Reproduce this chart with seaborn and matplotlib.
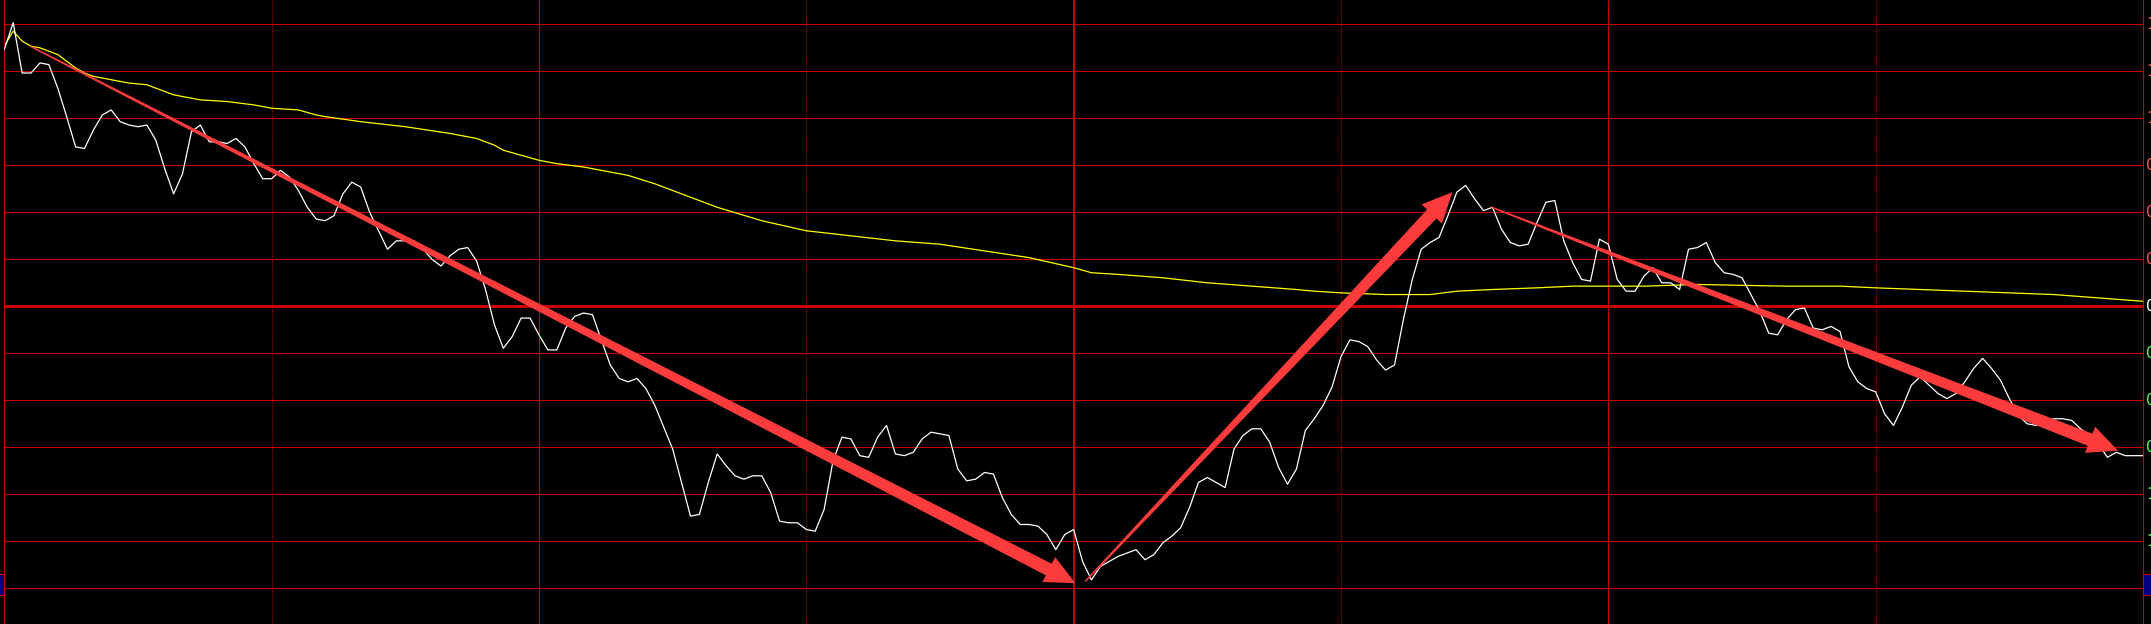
import numpy as np
import pandas as pd
import matplotlib
matplotlib.use('Agg')
import matplotlib.pyplot as plt
import seaborn as sns
from matplotlib.patches import Polygon, Rectangle
from matplotlib.transforms import IdentityTransform

# ── data: intraday % change vs previous close, one point per minute ────────
pct_change = [
    1.53, 1.69, 1.39, 1.39, 1.45, 1.44, 1.30, 1.13, 0.95, 0.94,
    1.05, 1.14, 1.17, 1.10, 1.08, 1.07, 1.08, 0.99, 0.82, 0.67,
    0.79, 1.04, 1.08, 0.98, 0.98, 0.97, 1.00, 0.95, 0.85, 0.76,
    0.76, 0.81, 0.77, 0.69, 0.59, 0.52, 0.51, 0.54, 0.67, 0.74,
    0.71, 0.56, 0.45, 0.34, 0.39, 0.39, 0.39, 0.34, 0.28, 0.24,
    0.30, 0.34, 0.35, 0.27, 0.10, -0.11, -0.25, -0.18, -0.07, -0.07,
    -0.17, -0.26, -0.26, -0.13, -0.06, -0.04, -0.05, -0.20, -0.35, -0.43,
    -0.45, -0.43, -0.49, -0.59, -0.72, -0.85, -1.05, -1.25, -1.24, -1.05,
    -0.88, -0.95, -1.01, -1.03, -1.01, -1.01, -1.11, -1.28, -1.29, -1.29,
    -1.33, -1.34, -1.21, -0.92, -0.78, -0.79, -0.89, -0.90, -0.78, -0.71,
    -0.88, -0.89, -0.87, -0.79, -0.75, -0.76, -0.77, -0.97, -1.04, -1.03,
    -0.99, -1.00, -1.14, -1.24, -1.30, -1.30, -1.31, -1.36, -1.45, -1.36,
    -1.33, -1.52, -1.63, -1.55, -1.52, -1.49, -1.47, -1.45, -1.51, -1.48,
    -1.41, -1.37, -1.32, -1.20, -1.05, -1.02, -1.05, -1.08, -0.85, -0.77,
    -0.73, -0.73, -0.81, -0.96, -1.06, -0.97, -0.74, -0.67, -0.59, -0.48,
    -0.30, -0.20, -0.21, -0.24, -0.32, -0.38, -0.35, -0.08, 0.16, 0.34,
    0.38, 0.41, 0.54, 0.68, 0.72, 0.64, 0.57, 0.59, 0.46, 0.38,
    0.36, 0.37, 0.50, 0.62, 0.63, 0.39, 0.26, 0.16, 0.15, 0.40,
    0.37, 0.16, 0.09, 0.09, 0.18, 0.23, 0.14, 0.14, 0.10, 0.34,
    0.35, 0.38, 0.26, 0.20, 0.19, 0.17, 0.07, -0.03, -0.16, -0.17,
    -0.08, -0.02, -0.01, -0.13, -0.14, -0.12, -0.15, -0.36, -0.45, -0.49,
    -0.51, -0.64, -0.71, -0.60, -0.47, -0.42, -0.47, -0.52, -0.55, -0.52,
    -0.45, -0.37, -0.31, -0.37, -0.44, -0.55, -0.65, -0.70, -0.71, -0.68,
    -0.67, -0.67, -0.68, -0.73, -0.77, -0.82, -0.90, -0.87, -0.89, -0.89,
    -0.89,
]
minutes = list(range(len(pct_change)))

# average price line (read at these minutes)
avg_minutes = [0, 1, 2, 3, 4, 5, 6, 7, 8, 9, 10, 11, 12, 14, 16, 17, 18, 19, 20,
               22, 25, 28, 30, 33, 35, 36, 40, 45, 50, 53, 55, 56, 58, 60,
               62, 65, 67, 70, 73, 75, 77, 80, 85, 90, 95, 100, 105, 110, 115, 120,
               122, 125, 130, 135, 140, 145, 147, 150, 155, 157, 160, 163, 167, 172,
               176, 184, 190, 200, 206, 210, 215, 220, 225, 230, 235, 240]
avg_pct = [1.55, 1.64, 1.58, 1.55, 1.54, 1.52, 1.50, 1.46, 1.42, 1.39, 1.37, 1.36, 1.35,
           1.33, 1.32, 1.30, 1.28, 1.26, 1.25,
           1.23, 1.22, 1.20, 1.18, 1.17, 1.14, 1.13,
           1.10, 1.07, 1.03, 1.00, 0.96, 0.93, 0.90, 0.87,
           0.85, 0.83, 0.81, 0.78, 0.73, 0.69, 0.65, 0.59,
           0.51, 0.45, 0.42, 0.39, 0.37, 0.33, 0.29, 0.23,
           0.20, 0.19, 0.17, 0.14, 0.12, 0.10, 0.09, 0.08,
           0.07, 0.07, 0.07, 0.09, 0.10, 0.11, 0.12, 0.12,
           0.13, 0.12, 0.12, 0.11, 0.10, 0.09, 0.08, 0.07, 0.05, 0.03]

grid_levels = [1.68, 1.40, 1.12, 0.84, 0.56, 0.28, 0.0,
               -0.28, -0.56, -0.84, -1.12, -1.40, -1.68]
axis_labels = ['1.68%', '1.40%', '1.12%', '0.84%', '0.56%', '0.28%', '0.00%',
               '0.28%', '0.56%', '0.84%', '1.12%', '1.40%', '1.68%']
half_hours = [30, 60, 90, 120, 150, 180, 210]

# hand-drawn trend arrows: (minute, pct) start -> tip
arrow_from = [(2.9, 1.55), (121.3, -1.64), (166.9, 0.59)]
arrow_to = [(120.2, -1.65), (162.5, 0.68), (237.2, -0.86)]

assert len(avg_minutes) == len(avg_pct)

# ── style ──────────────────────────────────────────────────────────────────
RED = '#c80000'
ARROW = '#fc3c3c'
W, H = 2151, 624

sns.set_style('dark', {'axes.facecolor': 'black', 'figure.facecolor': 'black'})
fig = plt.figure(figsize=(W / 100, H / 100), dpi=100)
fig.patch.set_facecolor('black')
ax = fig.add_axes([4.3 / W, 0, (2143 - 4.3) / W, 1])
ax.set_facecolor('black')
ax.set_xticks([])
ax.set_yticks([])
ax.grid(False)
for side in ['top', 'bottom']:
    ax.spines[side].set_visible(False)
for side in ['left', 'right']:
    ax.spines[side].set_color(RED)
    ax.spines[side].set_linewidth(0.8)

# grid
for lv in grid_levels:
    ax.axhline(lv, color=RED, lw=2.2 if lv == 0 else 0.8, zorder=1)
for m in half_hours:
    if m == 120:
        ax.axvline(m, color=RED, lw=1.5, zorder=1)
    elif m % 60 == 0:
        ax.axvline(m, color=RED, lw=0.8, zorder=1)
    else:
        ax.axvline(m, color=RED, lw=0.75, ls=(0, (1, 1.4)), zorder=1)

# lines
df = pd.DataFrame({'minute': minutes, 'pct': pct_change})
avg_df = pd.DataFrame({'minute': avg_minutes, 'pct': avg_pct})
sns.lineplot(data=df, x='minute', y='pct', color='white', lw=0.9, ax=ax, zorder=3)
sns.lineplot(data=avg_df, x='minute', y='pct', color='#ffff00', lw=0.9, ax=ax, zorder=2)
ax.set_xlabel('')
ax.set_ylabel('')
ax.set_xlim(0, 240)
ax.set_ylim(-1.893, 1.825)

# right-hand percentage labels (cut off by the figure edge, as in the source)
ytr = ax.get_yaxis_transform()
for lv, lab in zip(grid_levels, axis_labels):
    col = '#ff5454' if lv > 0 else ('white' if lv == 0 else '#54fc54')
    ax.text(1.0014, lv, lab, transform=ytr, color=col, fontsize=11,
            ha='left', va='center', clip_on=False)
ax.add_patch(Rectangle((1.0, -1.72), 0.01, 0.125, transform=ytr, facecolor='#000080',
                       edgecolor=RED, lw=0.8, clip_on=False, zorder=4))
ax.add_patch(Rectangle((-0.003, -1.72), 0.003, 0.125, transform=ytr, facecolor='#000080',
                       edgecolor=RED, lw=0.8, clip_on=False, zorder=4))


def tapered_arrow(p0, p1, w0=1.5, w1=13, head_w=28, head_len=30):
    a = ax.transData.transform(p0)
    b = ax.transData.transform(p1)
    d = b - a
    u = d / np.hypot(*d)
    n = np.array([-u[1], u[0]])
    base = b - u * head_len
    pts = [a + n * w0 / 2, base + n * w1 / 2, base + n * head_w / 2, b,
           base - n * head_w / 2, base - n * w1 / 2, a - n * w0 / 2]
    fig.add_artist(Polygon(pts, closed=True, transform=IdentityTransform(),
                           facecolor=ARROW, edgecolor='none', zorder=5))


for p0, p1 in zip(arrow_from, arrow_to):
    tapered_arrow(p0, p1)

plt.savefig('out.png', dpi=100, facecolor='black')
plt.close()
